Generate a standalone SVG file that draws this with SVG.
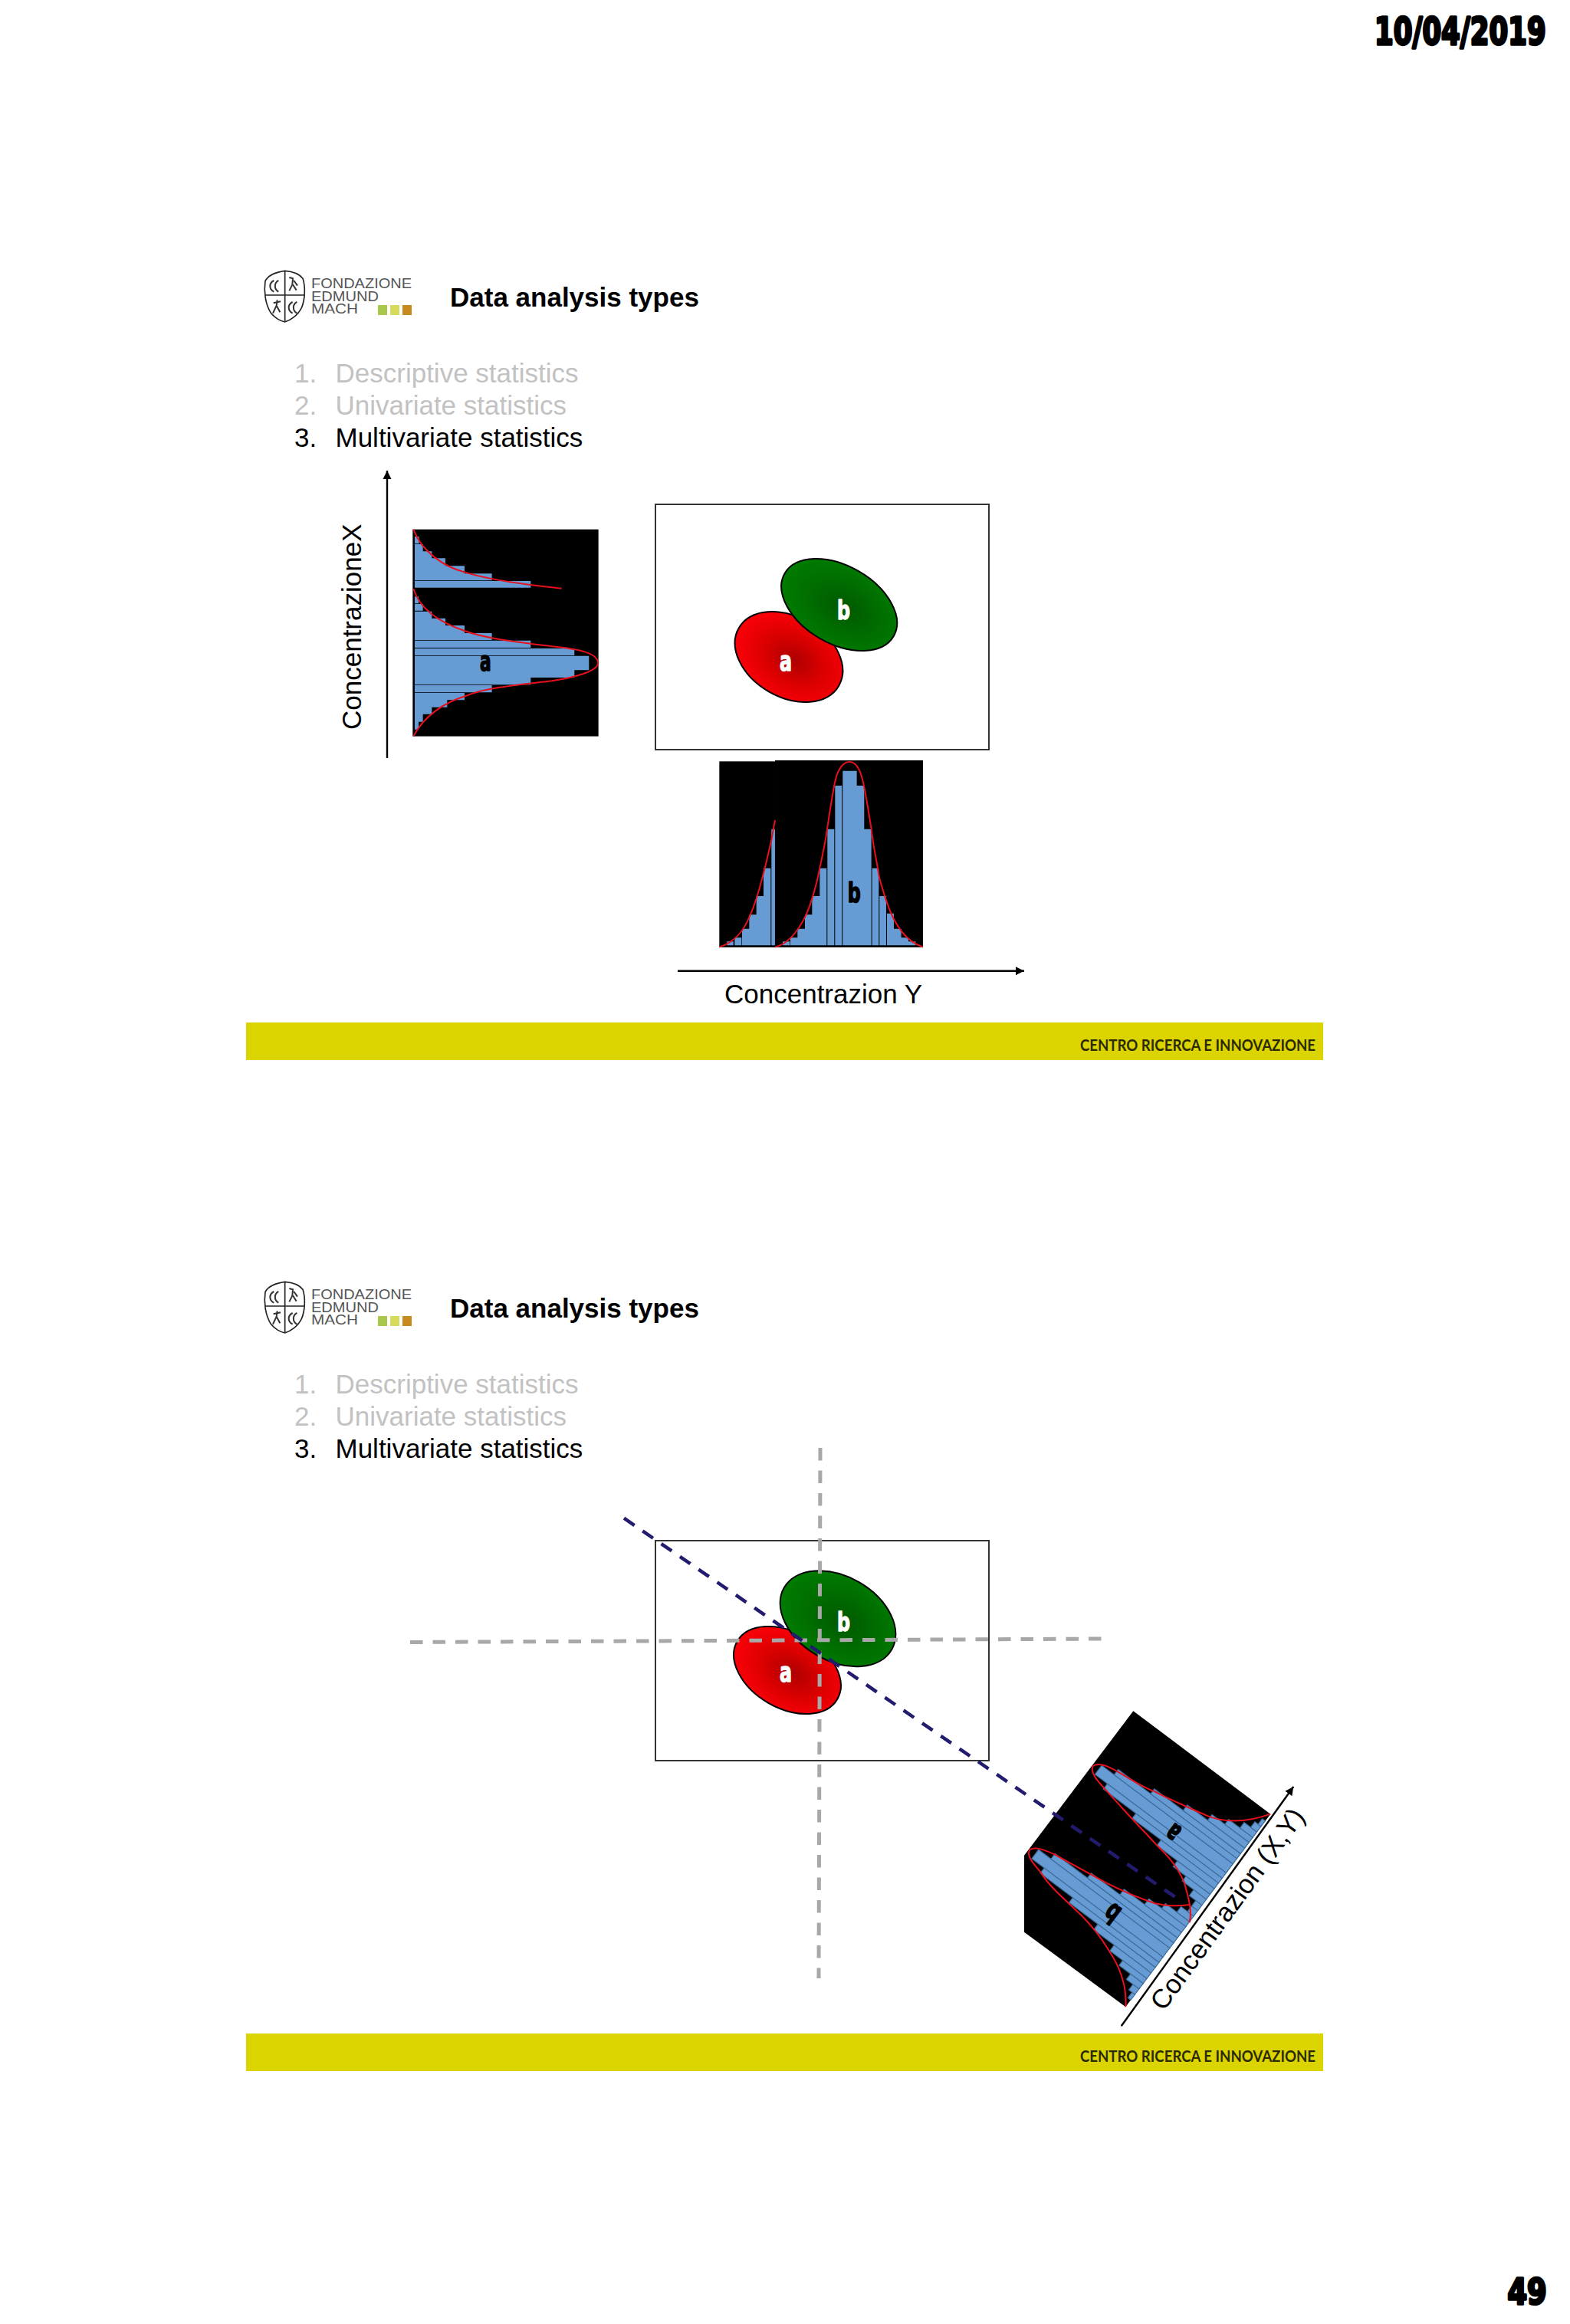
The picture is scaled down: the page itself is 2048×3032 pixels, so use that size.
<svg xmlns="http://www.w3.org/2000/svg" xmlns:xlink="http://www.w3.org/1999/xlink" width="2048" height="3032" viewBox="0 0 2048 3032">
<style>
.sans{font-family:"Liberation Sans",Arial,sans-serif}
.title{font-size:35px;font-weight:bold;fill:#000}
.li{font-size:35px}
.dim{fill:#c2c2c2}
.on{fill:#000}
.lg{font-size:18.5px;fill:#555}
.foot{font-family:Lato,"Liberation Sans",sans-serif;font-size:20px;font-weight:bold;fill:#2a2a00}
.lab{font-size:35px;fill:#000}
.heavy{font-family:"DejaVu Sans",sans-serif;font-weight:bold;stroke-linejoin:round}
.w{fill:#fff;stroke:#fff;stroke-width:1.4}
.k{fill:#000;stroke:#000;stroke-width:3.5}
.box{fill:#fff;stroke:#333;stroke-width:2}
.bar{fill:#dbd400}
.hist{fill:#669bd4}
.bin{fill:#669bd4;stroke:#3f6d9c;stroke-width:3.5}
.red{fill:none;stroke:#e8101c;stroke-width:6}
.ax{fill:none;stroke:#000;stroke-width:2.4}
.gray{fill:none;stroke:#a8a8a8;stroke-width:5;stroke-dasharray:16.5 13}
.blue{fill:none;stroke:#211c6e;stroke-width:4.5;stroke-dasharray:16.5 13}
.ell{stroke:#000;stroke-width:2}
.sh{fill:none;stroke:#222;stroke-width:5}
.sh2{fill:none;stroke:#333;stroke-width:6}
</style>
<defs>
<marker id="arr" markerUnits="userSpaceOnUse" markerWidth="12" markerHeight="12" refX="11" refY="6" orient="auto"><path d="M0,0.5L11,6L0,11.5Z" fill="#000"/></marker>
<radialGradient id="rg" cx="55%" cy="50%" r="52%"><stop offset="0" stop-color="#ad0000"/><stop offset=".5" stop-color="#d80000"/><stop offset="1" stop-color="#f80008"/></radialGradient>
<radialGradient id="gg" cx="55%" cy="50%" r="52%"><stop offset="0" stop-color="#005800"/><stop offset=".55" stop-color="#006c00"/><stop offset="1" stop-color="#007a00"/></radialGradient>
<g id="shield" transform="translate(320,330) scale(.3333)">
<path class="sh" d="M155,70C120,75 90,85 78,110C72,150 78,200 100,235C115,255 140,268 155,270C175,265 205,245 220,215C235,180 235,130 225,100C210,80 180,72 155,70Z"/>
<path class="sh" d="M155,72V268M78,165H232" stroke-width="3"/>
<path class="sh2" d="M112,108C92,118 92,142 112,152M130,108C112,118 112,142 130,152M185,192C165,202 165,226 185,236M202,192C184,202 184,226 202,236"/>
<path class="sh2" d="M172,96L186,100L184,124L172,148M190,108L204,128M186,124L200,146M125,184L122,206L108,236M110,196L138,190M122,206L136,232"/>
</g>
</defs>
<rect width="2048" height="3032" fill="#fff"/>

<g id="date"><text class="heavy k" transform="translate(1793,58) scale(.725,1)" font-size="49">10/04/2019</text></g>
<g id="page"><text class="heavy k" transform="translate(1966.5,3006) scale(.8,1)" font-size="46">49</text></g>

<g id="slide1-header">
<use xlink:href="#shield" href="#shield"/>
<text class="sans lg" x="406" y="376" textLength="131" lengthAdjust="spacingAndGlyphs">FONDAZIONE</text>
<text class="sans lg" x="406" y="393" textLength="88" lengthAdjust="spacingAndGlyphs">EDMUND</text>
<text class="sans lg" x="406" y="409" textLength="61" lengthAdjust="spacingAndGlyphs">MACH</text>
<rect x="493" y="398" width="12" height="13" fill="#a9c84a"/><rect x="509" y="398" width="12" height="13" fill="#d6dc5a"/><rect x="525" y="398" width="12" height="13" fill="#c8891e"/>
<text class="sans title" x="587" y="400">Data analysis types</text>
<text class="sans li dim" x="384" y="499">1.</text><text class="sans li dim" x="437.5" y="499">Descriptive statistics</text>
<text class="sans li dim" x="384" y="541">2.</text><text class="sans li dim" x="437.5" y="541">Univariate statistics</text>
<text class="sans li on" x="384" y="583">3.</text><text class="sans li on" x="437.5" y="583">Multivariate statistics</text>
</g>

<g id="hist-a" transform="translate(420,600) scale(.3333)">
<rect x="355" y="272" width="727" height="810" fill="#000"/>
<path class="hist" d="M363,300H380V328H363ZM363,330H395V358H363ZM363,358H430V385H363ZM363,385H483V415H363ZM363,415H558V445H363ZM363,445H665V472H363ZM363,474H817V500H363ZM363,535H378V562H363ZM363,564H395V590H363ZM363,593H430V620H363ZM363,620H483V648H363ZM363,648H558V678H363ZM363,678H665V705H363ZM363,707H817V735H363ZM363,738H988V765H363ZM363,767H1045V823H363ZM363,823H988V852H363ZM363,852H817V880H363ZM363,882H665V910H363ZM363,912H558V940H363ZM363,940H490V968H363ZM363,968H430V995H363ZM363,995H395V1025H363ZM363,1025H378V1055H363Z"/>
<path class="red" d="M358,272C390,360 480,420 560,440C640,465 780,487 938,503"/>
<path class="red" d="M358,505C385,590 470,640 560,670C640,700 780,715 900,730C1000,740 1080,755 1080,795C1080,825 1000,850 900,865C780,880 640,890 560,925C480,950 400,1000 358,1082"/>
<text class="heavy" x="618" y="825" font-size="108" textLength="44" lengthAdjust="spacingAndGlyphs" stroke="#000" stroke-width="5">a</text>
</g>

<g id="hist-b" transform="translate(860,970) scale(.3333)">
<rect x="235" y="70" width="218" height="728" fill="#000"/><rect x="453" y="66" width="579" height="732" fill="#000"/>
<path class="hist" d="M265,790V775H290V790ZM295,790V760H322V790ZM324,790V725H352V670H380V597H408V488H436V790ZM439,790V335H453V790ZM483,790V775H511V790ZM513,790V760H541V725H570V670H598V597H628V488H655V790ZM658,790V335H685V790ZM688,790V165H715V790ZM718,790V107H773V165H802V335H830V790ZM833,790V488H859V790ZM862,790V597H888V790ZM891,790V665H918V725H947V760H975V775H1003V790Z"/>
<path class="red" d="M235,797C290,780 330,735 352,680C380,620 400,540 420,460C435,400 445,350 453,300"/>
<path class="red" d="M453,797C500,785 540,740 570,680C590,640 615,560 628,488C640,430 650,390 657,335C670,250 680,180 690,140C700,100 720,72 744,72C768,72 785,100 795,140C808,190 818,260 830,335C840,420 850,450 860,520C870,560 880,590 890,620C910,680 950,770 1032,797"/>
<text class="heavy" x="737" y="620" font-size="108" textLength="51" lengthAdjust="spacingAndGlyphs" stroke="#000" stroke-width="5">b</text>
</g>

<g id="scatter1">
<rect class="box" x="855" y="658" width="435" height="320"/>
<ellipse class="ell" cx="1029" cy="857" rx="75.3" ry="52.3" transform="rotate(30 1029 857)" fill="url(#rg)"/>
<ellipse class="ell" cx="1094.7" cy="789" rx="82" ry="50.6" transform="rotate(30 1094.7 789)" fill="url(#gg)"/>
<text class="heavy w" x="1017" y="875" font-size="36" textLength="16" lengthAdjust="spacingAndGlyphs">a</text>
<text class="heavy w" x="1092" y="808" font-size="34" textLength="17" lengthAdjust="spacingAndGlyphs">b</text>
</g>

<g id="connectors-1">
<path class="ax" d="M505,989V614" marker-end="url(#arr)"/>
<path class="ax" d="M884,1266.7H1336" marker-end="url(#arr)"/>
</g>
<g id="axis-labels-1">
<text class="sans lab" transform="translate(471,952) rotate(-90)">ConcentrazioneX</text>
<text class="sans lab" x="945" y="1309">Concentrazion Y</text>
</g>
<g id="footer1">
<rect class="bar" x="321" y="1334" width="1405" height="49"/>
<text class="foot" x="1409" y="1370.5" textLength="307" lengthAdjust="spacingAndGlyphs">CENTRO RICERCA E INNOVAZIONE</text>
</g>

<g id="slide2-header">
<use xlink:href="#shield" href="#shield" transform="translate(0,1319)"/>
<text class="sans lg" x="406" y="1695" textLength="131" lengthAdjust="spacingAndGlyphs">FONDAZIONE</text>
<text class="sans lg" x="406" y="1712" textLength="88" lengthAdjust="spacingAndGlyphs">EDMUND</text>
<text class="sans lg" x="406" y="1728" textLength="61" lengthAdjust="spacingAndGlyphs">MACH</text>
<rect x="493" y="1717" width="12" height="13" fill="#a9c84a"/><rect x="509" y="1717" width="12" height="13" fill="#d6dc5a"/><rect x="525" y="1717" width="12" height="13" fill="#c8891e"/>
<text class="sans title" x="587" y="1719">Data analysis types</text>
<text class="sans li dim" x="384" y="1818">1.</text><text class="sans li dim" x="437.5" y="1818">Descriptive statistics</text>
<text class="sans li dim" x="384" y="1860">2.</text><text class="sans li dim" x="437.5" y="1860">Univariate statistics</text>
<text class="sans li on" x="384" y="1902">3.</text><text class="sans li on" x="437.5" y="1902">Multivariate statistics</text>
</g>

<g id="rotated-hist" transform="translate(1300,2200) scale(.3333)">
<path d="M535,97L1072,500L505,1255L108,962V662Z" fill="#000"/>
<g transform="matrix(.6,-.8,-.8,-.6,505,1255)">
<rect class="bin" x="34" width="27" height="14"/><rect class="bin" x="61" width="27" height="30"/><rect class="bin" x="88" width="27" height="62"/><rect class="bin" x="115" width="24" height="118"/><rect class="bin" x="139" width="28" height="181"/><rect class="bin" x="167" width="27" height="281"/><rect class="bin" x="194" width="24" height="422"/><rect class="bin" x="218" width="26" height="581"/><rect class="bin" x="244" width="44" height="642"/><rect class="bin" x="288" width="26" height="581"/><rect class="bin" x="314" width="24" height="422"/><rect class="bin" x="338" width="27" height="281"/><rect class="bin" x="365" width="28" height="181"/><rect class="bin" x="393" width="24" height="118"/>
<rect class="bin" x="551" width="28" height="181"/><rect class="bin" x="579" width="27" height="281"/><rect class="bin" x="606" width="24" height="422"/><rect class="bin" x="630" width="26" height="581"/><rect class="bin" x="656" width="44" height="642"/><rect class="bin" x="700" width="26" height="581"/><rect class="bin" x="726" width="24" height="422"/><rect class="bin" x="750" width="27" height="281"/><rect class="bin" x="777" width="28" height="181"/><rect class="bin" x="805" width="24" height="118"/><rect class="bin" x="829" width="27" height="62"/><rect class="bin" x="856" width="27" height="30"/><rect class="bin" x="883" width="27" height="14"/>
<rect class="bin" x="417" width="27" height="62"/><rect class="bin" x="444" width="27" height="30"/><rect class="bin" x="471" width="27" height="30"/><rect class="bin" x="498" width="29" height="62"/><rect class="bin" x="527" width="24" height="118"/>
</g>
<path class="red" d="M505,1255C510,1180 490,1110 440,1035C410,985 380,945 330,895C280,845 210,790 170,725C140,690 115,660 130,640C150,625 190,640 230,660C290,695 360,730 430,770C500,805 560,830 620,850C670,862 720,860 755,855"/>
<path class="red" d="M755,925C765,880 755,840 735,770C715,720 680,670 625,620C580,570 530,520 495,480C460,440 420,400 400,375C375,345 365,315 385,308C410,300 440,315 475,335C520,360 570,395 615,410C680,445 740,470 820,505C880,530 960,540 1072,500"/>
<text class="heavy" transform="translate(695,568) rotate(217)" x="-22" y="28" font-size="108" textLength="44" lengthAdjust="spacingAndGlyphs" stroke="#000" stroke-width="5">a</text>
<text class="heavy" transform="translate(452,890) rotate(217)" x="-25" y="38" font-size="108" textLength="51" lengthAdjust="spacingAndGlyphs" stroke="#000" stroke-width="5">b</text>
</g>

<g id="scatter2">
<rect class="box" x="855" y="2010" width="435" height="287"/>
<ellipse class="ell" cx="1027" cy="2179" rx="75.4" ry="49.4" transform="rotate(30 1027 2179)" fill="url(#rg)"/>
<ellipse class="ell" cx="1093" cy="2111.7" rx="81" ry="55" transform="rotate(30 1093 2111.7)" fill="url(#gg)"/>
<text class="heavy w" x="1017" y="2194" font-size="36" textLength="16" lengthAdjust="spacingAndGlyphs">a</text>
<text class="heavy w" x="1092" y="2127.5" font-size="34" textLength="17" lengthAdjust="spacingAndGlyphs">b</text>
</g>

<g id="connectors-2">
<path class="gray" d="M1070,1889L1068,2581"/>
<path class="gray" d="M535,2142.5L1437,2138"/>
<path class="blue" d="M814,1980.7L1533,2475"/>
<path class="ax" d="M1462.7,2643.3L1687.3,2331" marker-end="url(#arr)"/>
</g>
<g id="axis-labels-2">
<text class="sans lab" transform="translate(1518,2625) rotate(-54)">Concentrazion (X,Y)</text>
</g>
<g id="footer2">
<rect class="bar" x="321" y="2653" width="1405" height="49"/>
<text class="foot" x="1409" y="2689.5" textLength="307" lengthAdjust="spacingAndGlyphs">CENTRO RICERCA E INNOVAZIONE</text>
</g>
</svg>
